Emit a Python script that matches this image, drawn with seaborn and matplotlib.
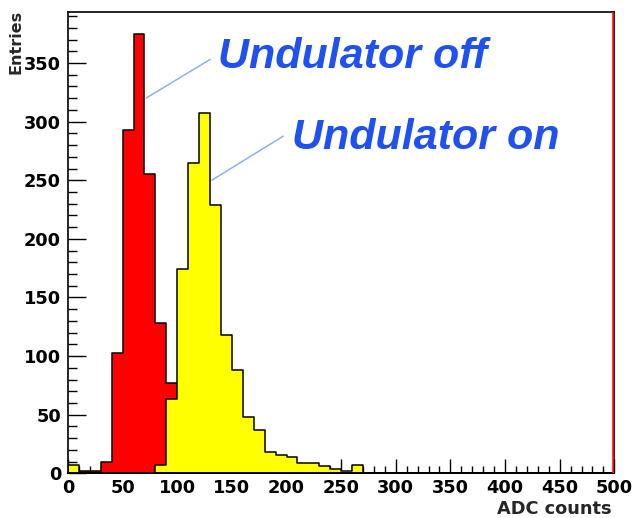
import matplotlib
matplotlib.use("Agg")
import matplotlib.pyplot as plt
import seaborn as sns
import numpy as np
import pandas as pd
from matplotlib.ticker import MultipleLocator

# 50 bins of 10 ADC counts each, 0..500
bin_edges = np.arange(0, 510, 10)
bin_centers = bin_edges[:-1] + 5

counts_off = [0, 2, 2, 10, 103, 293, 375, 255, 128, 77,
              0, 0, 0, 0, 0, 0, 0, 0, 0, 0,
              0, 0, 0, 0, 0, 0, 0, 0, 0, 0,
              0, 0, 0, 0, 0, 0, 0, 0, 0, 0,
              0, 0, 0, 0, 0, 0, 0, 0, 0, 0]
counts_on = [7, 0, 0, 0, 0, 0, 0, 0, 7, 63,
             174, 265, 307, 229, 118, 88, 48, 37, 18, 16,
             14, 9, 9, 6, 4, 2, 7, 0, 0, 0,
             0, 0, 0, 0, 0, 0, 0, 0, 0, 0,
             0, 0, 0, 0, 0, 0, 0, 0, 0, 0]

df = pd.DataFrame({"adc": bin_centers, "off": counts_off, "on": counts_on})

sns.set_style("ticks")
plt.rcParams["font.family"] = ["DejaVu Sans"]
plt.rcParams["font.weight"] = "bold"

fig = plt.figure(figsize=(6.35, 5.18), dpi=100)
ax = fig.add_axes([0.1071, 0.0863, 0.8603, 0.8911])

sns.histplot(data=df, x="adc", weights="off", binwidth=10, binrange=(0, 500),
             element="step", fill=True, color="#ff0000", edgecolor="black",
             linewidth=1.1, alpha=1, ax=ax)
sns.histplot(data=df, x="adc", weights="on", binwidth=10, binrange=(0, 500),
             element="step", fill=True, color="#ffff00", edgecolor="black",
             linewidth=1.1, alpha=1, ax=ax)
ax.axvline(498.9, color="#ff0000", lw=1.8, zorder=3)

ax.set_xlim(0, 500)
ax.set_ylim(0, 393.75)
ax.set_xlabel("")
ax.set_ylabel("")

ax.xaxis.set_major_locator(MultipleLocator(50))
ax.xaxis.set_minor_locator(MultipleLocator(10))
ax.yaxis.set_major_locator(MultipleLocator(50))
ax.yaxis.set_minor_locator(MultipleLocator(10))
ax.tick_params(which="both", direction="in", top=False, right=False,
               width=1, colors="black", labelsize=12.8)
ax.tick_params(axis="x", which="major", length=10, pad=4)
ax.tick_params(axis="x", which="minor", length=5)
ax.tick_params(axis="y", which="major", length=13, pad=5)
ax.tick_params(axis="y", which="minor", length=6.5)
for lab in ax.get_xticklabels() + ax.get_yticklabels():
    lab.set_fontweight("bold")
for sp in ax.spines.values():
    sp.set_visible(True)
    sp.set_color("black")
    sp.set_linewidth(1.2)

# annotations
label_font = dict(family="Liberation Sans", style="italic", weight="bold",
                  size=31, color="#1f50f0")
ax.plot([71.4, 130], [320, 353], color="#8fb0f0", lw=1.1)
ax.plot([131.6, 197], [250, 287.6], color="#8fb0f0", lw=1.1)
ax.text(137.4, 345.5, "Undulator off", ha="left", va="baseline", **label_font)
ax.text(205, 277, "Undulator on", ha="left", va="baseline", **label_font)

fig.text(16 / 635, 1 - 10 / 518, "Entries", rotation=90, ha="center",
         va="top", fontsize=11.5, fontweight="bold")
fig.text(612 / 635, 4 / 518, "ADC counts", ha="right", va="baseline",
         fontsize=12.8, fontweight="bold")

fig.savefig("out.png", dpi=100)
